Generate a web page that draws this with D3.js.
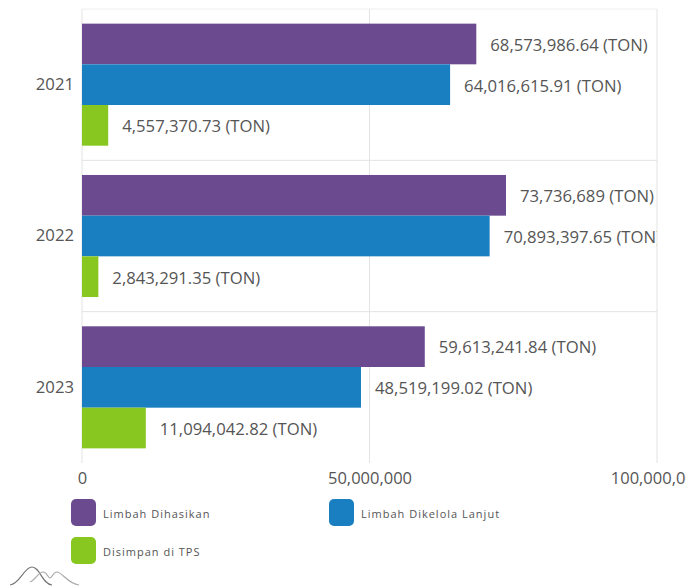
<!DOCTYPE html>
<html>
<head>
<meta charset="utf-8">
<script src="https://cdnjs.cloudflare.com/ajax/libs/d3/7.8.5/d3.min.js"></script>
<style>
html, body { margin: 0; padding: 0; background: #fff; overflow: hidden; }
svg { display: block; font-family: "Open Sans", sans-serif; }
</style>
</head>
<body>
<div class="content"></div>
<script>
var years = ['2021', '2022', '2023'];
var seriesNames = ['Limbah Dihasikan', 'Limbah Dikelola Lanjut', 'Disimpan di TPS'];
var seriesColors = ['#6b4a8f', '#1a7fc1', '#88c720'];
var dihasilkan = [68573986.64, 73736689, 59613241.84];
var dikelola = [64016615.91, 70893397.65, 48519199.02];
var disimpan = [4557370.73, 2843291.35, 11094042.82];
var valueLabels = [
    ['68,573,986.64 (TON)', '73,736,689 (TON)', '59,613,241.84 (TON)'],
    ['64,016,615.91 (TON)', '70,893,397.65 (TON)', '48,519,199.02 (TON)'],
    ['4,557,370.73 (TON)', '2,843,291.35 (TON)', '11,094,042.82 (TON)']
];
var xTicks = [0, 50000000, 100000000];

var allSeries = [dihasilkan, dikelola, disimpan];

var svg = d3.select('.content').append('svg')
    .attr('width', 686)
    .attr('height', 586);

var plotLeft = 82, plotRight = 657, plotTop = 9, plotBottom = 463;

var x = d3.scaleLinear().domain([0, 100000000]).range([plotLeft, plotRight]);
var y = d3.scaleBand().domain(years).range([plotTop, plotBottom]);
var inner = d3.scaleBand().domain([0, 1, 2]).range([0, y.bandwidth()]).paddingOuter(0.36).paddingInner(0);

svg.append('defs').append('clipPath').attr('id', 'plot')
    .append('rect')
    .attr('x', plotLeft)
    .attr('y', plotTop)
    .attr('width', plotRight - plotLeft)
    .attr('height', plotBottom - plotTop);

// grid
xTicks.forEach(function(t) {
    svg.append('line')
        .attr('x1', x(t)).attr('x2', x(t))
        .attr('y1', plotTop).attr('y2', plotBottom)
        .attr('stroke', '#e3e3e3');
});
svg.append('line')
    .attr('x1', plotLeft).attr('x2', plotRight)
    .attr('y1', plotTop).attr('y2', plotTop)
    .attr('stroke', '#eeeeee');
years.forEach(function(d, i) {
    if (i > 0) {
        svg.append('line')
            .attr('x1', plotLeft).attr('x2', plotRight)
            .attr('y1', y(d)).attr('y2', y(d))
            .attr('stroke', '#e3e3e3');
    }
});

// bars and labels
var plot = svg.append('g').attr('clip-path', 'url(#plot)');
allSeries.forEach(function(values, s) {
    plot.selectAll('rect.s' + s)
        .data(values)
        .enter().append('rect')
        .attr('class', 's' + s)
        .attr('x', x(0))
        .attr('y', function(d, i) { return y(years[i]) + inner(s); })
        .attr('width', function(d) { return x(d) - x(0); })
        .attr('height', inner.bandwidth())
        .attr('fill', seriesColors[s]);

    plot.selectAll('text.s' + s)
        .data(values)
        .enter().append('text')
        .attr('class', 's' + s)
        .attr('x', function(d) { return x(d) + 14; })
        .attr('y', function(d, i) { return y(years[i]) + inner(s) + inner.bandwidth() / 2 + 1; })
        .attr('dy', '0.35em')
        .attr('font-size', 16.7)
        .attr('fill', '#555')
        .text(function(d, i) { return valueLabels[s][i]; });
});

// axes
var yAxis = d3.axisLeft(y).tickSize(0).tickPadding(8);
svg.append('g')
    .attr('transform', 'translate(' + plotLeft + ',0)')
    .call(yAxis)
    .call(function(g) { g.select('.domain').remove(); })
    .selectAll('text')
    .attr('font-size', 16.7)
    .attr('font-family', '"Open Sans", sans-serif')
    .attr('fill', '#555');

var xAxis = d3.axisBottom(x).tickValues(xTicks).tickFormat(d3.format(',')).tickSize(0).tickPadding(9);
svg.append('g')
    .attr('transform', 'translate(0,' + plotBottom + ')')
    .call(xAxis)
    .call(function(g) { g.select('.domain').remove(); })
    .selectAll('text')
    .attr('font-size', 16.5)
    .attr('font-family', '"Open Sans", sans-serif')
    .attr('fill', '#555');

// legend
var legendX = [71, 329, 71];
var legendY = [499, 499, 537];
seriesNames.forEach(function(name, i) {
    svg.append('rect')
        .attr('x', legendX[i])
        .attr('y', legendY[i])
        .attr('width', 25)
        .attr('height', 27)
        .attr('rx', 5)
        .attr('fill', seriesColors[i]);
    svg.append('text')
        .attr('x', legendX[i] + 32)
        .attr('y', legendY[i] + 15)
        .attr('dy', '0.35em')
        .attr('font-size', 11)
        .attr('letter-spacing', 1)
        .attr('fill', '#555')
        .text(name);
});

// logo at the bottom left
svg.append('path')
    .attr('d', 'M10,585 C20,584 24,567 32,567 C40,567 42,584 52,585')
    .attr('fill', 'none').attr('stroke', '#777').attr('stroke-width', 1.2);
svg.append('path')
    .attr('d', 'M30,582 C36,580 38,572 43,572 C47,572 48,578 50,578 C52,578 53,572 57,572 C62,572 68,584 79,585')
    .attr('fill', 'none').attr('stroke', '#aaa').attr('stroke-width', 1.2);
</script>
</body>
</html>
